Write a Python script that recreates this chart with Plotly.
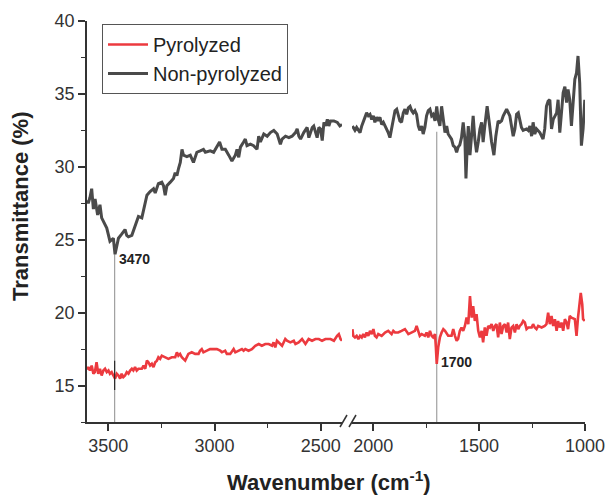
import plotly.graph_objects as go

# ---------------- data ----------------
# Non-pyrolyzed, high-wavenumber segment (3600-2400 cm-1)
np_left_wn = [3600, 3594, 3586, 3578, 3570, 3562, 3550, 3539, 3531, 3523, 3507, 3492, 3476, 3468,
              3460, 3452, 3436, 3421, 3413, 3405, 3389, 3374, 3358, 3342, 3326, 3318, 3303, 3287,
              3279, 3264, 3248, 3240, 3232, 3224, 3208, 3193, 3185, 3177, 3169, 3161, 3153, 3146,
              3130, 3114, 3099, 3083, 3067, 3052, 3043, 3028, 3020, 3004, 2988, 2976, 2965, 2949,
              2933, 2918, 2902, 2894, 2886, 2878, 2863, 2855, 2847, 2831, 2816, 2800, 2792, 2784,
              2768, 2752, 2737, 2721, 2705, 2690, 2682, 2666, 2650, 2635, 2619, 2611, 2603, 2595,
              2580, 2564, 2556, 2548, 2540, 2533, 2517, 2509, 2501, 2493, 2485, 2477, 2469, 2462,
              2454, 2438, 2422, 2410, 2400]
np_left_t = [27.7, 27.5, 27.9, 28.5, 27.1, 27.8, 26.7, 27.4, 26.5, 26.25, 25.8, 24.9, 25.1, 24.0,
             24.65, 25.1, 25.4, 25.7, 25.3, 25.2, 25.3, 26.0, 26.6, 26.5, 27.4, 28.05, 28.3, 28.5,
             28.2, 28.85, 28.95, 28.7, 28.05, 28.7, 28.95, 29.2, 29.6, 29.4, 29.9, 30.3, 31.2, 30.8,
             30.7, 30.8, 30.3, 31.0, 31.1, 31.2, 31.0, 31.1, 31.1, 31.0, 31.35, 31.7, 31.2, 31.2,
             30.8, 30.4, 30.8, 31.2, 30.65, 31.35, 31.7, 31.9, 31.45, 31.55, 31.45, 31.2, 32.1, 31.7,
             32.25, 32.1, 32.35, 32.5, 32.25, 31.55, 31.9, 32.1, 32.0, 32.1, 32.35, 32.6, 32.1, 31.9,
             32.35, 32.7, 32.0, 32.35, 32.7, 32.8, 32.0, 32.7, 32.6, 31.8, 33.05, 32.8, 33.25, 32.8,
             33.15, 33.15, 33.05, 32.8, 32.9]

# Non-pyrolyzed, low-wavenumber segment (2100-1000 cm-1)
np_right_wn = [2098, 2086, 2078, 2062, 2054, 2047, 2039, 2031, 2023, 2015, 2007, 1999, 1992, 1984,
               1976, 1968, 1960, 1952, 1944, 1936, 1929, 1921, 1913, 1905, 1897, 1889, 1882, 1874,
               1866, 1858, 1850, 1842, 1834, 1826, 1818, 1811, 1803, 1795, 1787, 1780, 1771, 1764,
               1756, 1748, 1740, 1732, 1724, 1717, 1708, 1700, 1693, 1685, 1677, 1669, 1661, 1653,
               1646, 1630, 1622, 1614, 1606, 1599, 1591, 1583, 1575, 1567, 1562, 1556, 1551, 1543,
               1535, 1528, 1520, 1512, 1504, 1496, 1488, 1481, 1473, 1462, 1452, 1441, 1430, 1421,
               1410, 1402, 1394, 1386, 1370, 1355, 1347, 1339, 1331, 1323, 1315, 1308, 1300, 1292,
               1276, 1268, 1260, 1252, 1245, 1237, 1229, 1213, 1205, 1198, 1190, 1182, 1174, 1166,
               1158, 1150, 1134, 1127, 1119, 1111, 1103, 1095, 1087, 1080, 1072, 1064, 1056, 1048,
               1040, 1033, 1025, 1017, 1009, 1001]
np_right_t = [32.8, 32.5, 32.7, 32.35, 32.8, 33.05, 33.4, 33.7, 33.5, 33.6, 33.25, 33.5, 33.05, 33.4,
              33.15, 33.4, 32.9, 33.05, 32.8, 32.6, 32.35, 32.0, 32.6, 33.25, 33.85, 33.95, 33.6, 33.15,
              33.05, 33.7, 33.95, 33.6, 34.05, 34.15, 33.85, 33.7, 33.85, 33.6, 32.8, 32.5, 32.8, 32.25,
              32.7, 33.5, 33.85, 33.95, 33.5, 33.6, 33.15, 34.15, 33.25, 32.8, 34.15, 33.25, 32.35, 32.8,
              32.25, 31.9, 31.45, 31.35, 31.0, 31.35, 31.5, 32.0, 33.05, 31.9, 29.2, 31.45, 32.8, 30.8,
              32.35, 33.5, 31.9, 31.0, 31.7, 32.6, 33.05, 31.7, 32.8, 34.15, 33.05, 31.7, 30.8, 32.1,
              33.15, 33.05, 33.15, 33.5, 33.95, 33.5, 32.8, 32.1, 32.6, 33.6, 33.7, 33.25, 32.7, 32.5,
              32.6, 32.5, 32.8, 32.1, 33.05, 32.25, 32.6, 32.35, 32.1, 31.9, 32.6, 34.15, 34.5, 34.6,
              32.6, 33.25, 33.7, 34.6, 32.35, 33.7, 35.1, 35.5, 34.4, 35.3, 34.6, 32.8, 34.15, 36.0,
              36.45, 37.6, 35.75, 31.45, 32.6, 34.6]

# Pyrolyzed, high-wavenumber segment
p_left_wn = [3600, 3594, 3586, 3578, 3570, 3563, 3555, 3547, 3539, 3531, 3523, 3515, 3507, 3499,
             3492, 3484, 3476, 3468, 3460, 3452, 3444, 3437, 3429, 3421, 3413, 3405, 3397, 3389,
             3382, 3374, 3366, 3358, 3342, 3334, 3326, 3318, 3311, 3303, 3295, 3287, 3279, 3271,
             3264, 3256, 3248, 3232, 3217, 3201, 3185, 3177, 3170, 3162, 3154, 3138, 3123, 3107,
             3091, 3075, 3068, 3060, 3052, 3036, 3021, 3005, 2989, 2973, 2965, 2950, 2942, 2926,
             2910, 2902, 2887, 2871, 2863, 2855, 2840, 2824, 2808, 2792, 2777, 2761, 2745, 2729,
             2722, 2714, 2706, 2698, 2682, 2667, 2659, 2643, 2627, 2619, 2604, 2588, 2572, 2557,
             2541, 2525, 2509, 2494, 2478, 2454, 2438, 2423, 2415, 2407, 2400]
p_left_t = [16.1, 16.26, 16.03, 16.37, 15.81, 15.92, 16.6, 15.81, 16.15, 15.69, 16.03, 16.15, 15.92, 16.03,
            15.81, 15.92, 15.69, 15.47, 15.81, 15.69, 15.47, 15.81, 15.58, 15.69, 15.92, 15.81, 16.03, 16.15,
            16.03, 16.26, 16.03, 16.15, 16.15, 16.37, 16.15, 16.71, 16.6, 16.37, 16.49, 16.26, 16.6, 16.71,
            16.94, 16.83, 17.05, 16.94, 16.83, 16.94, 16.94, 17.28, 17.05, 17.17, 16.94, 16.71, 17.17, 17.28,
            17.17, 17.17, 17.39, 17.5, 17.28, 17.39, 17.5, 17.5, 17.5, 17.39, 17.28, 17.39, 17.17, 17.17,
            17.5, 17.28, 17.39, 17.5, 17.39, 17.5, 17.39, 17.5, 17.73, 17.85, 17.73, 17.85, 17.85, 17.73,
            17.96, 17.62, 18.07, 17.96, 17.73, 18.19, 18.07, 17.96, 18.07, 17.85, 17.96, 18.19, 17.85, 18.19,
            18.07, 18.19, 18.19, 18.07, 18.19, 18.19, 18.07, 18.41, 18.53, 18.19, 18.07]

# Pyrolyzed, low-wavenumber segment
p_right_wn = [2098, 2094, 2086, 2078, 2070, 2062, 2054, 2047, 2039, 2031, 2023, 2015, 2007, 1999,
              1992, 1984, 1976, 1960, 1944, 1929, 1913, 1905, 1897, 1882, 1866, 1850, 1834, 1818,
              1803, 1795, 1787, 1780, 1771, 1756, 1748, 1740, 1732, 1724, 1717, 1708, 1704, 1700,
              1693, 1685, 1677, 1669, 1661, 1653, 1646, 1630, 1622, 1614, 1606, 1599, 1591, 1583,
              1575, 1567, 1559, 1551, 1543, 1535, 1528, 1520, 1512, 1504, 1496, 1488, 1481, 1473,
              1465, 1457, 1449, 1441, 1433, 1425, 1418, 1410, 1402, 1394, 1386, 1378, 1370, 1363,
              1355, 1347, 1339, 1331, 1323, 1315, 1308, 1300, 1292, 1284, 1276, 1268, 1252, 1245,
              1237, 1229, 1221, 1205, 1190, 1182, 1174, 1166, 1158, 1150, 1142, 1134, 1127, 1119,
              1111, 1103, 1095, 1087, 1080, 1072, 1064, 1048, 1040, 1033, 1025, 1020, 1013, 1009, 1001]
p_right_t = [18.87, 18.41, 18.3, 18.41, 18.19, 18.41, 18.3, 18.53, 18.3, 18.64, 18.41, 18.75, 18.53, 18.87,
             18.41, 18.3, 18.53, 18.41, 18.64, 18.75, 18.53, 18.75, 18.64, 18.64, 18.75, 18.87, 18.53, 18.64,
             18.75, 19.09, 18.75, 18.41, 18.53, 18.41, 18.64, 18.3, 18.75, 18.41, 18.3, 18.53, 17.62, 16.48,
             17.62, 18.3, 18.64, 18.87, 18.75, 18.53, 18.41, 18.41, 18.87, 18.41, 18.07, 18.19, 18.75, 18.98,
             18.75, 19.09, 19.66, 19.21, 21.13, 19.66, 20.45, 19.43, 19.89, 18.75, 18.3, 18.75, 17.96, 18.98,
             18.41, 19.09, 18.98, 19.21, 18.75, 19.09, 19.21, 18.3, 19.32, 18.53, 19.09, 19.21, 18.64, 19.32,
             18.19, 18.98, 19.09, 18.64, 19.21, 18.87, 19.09, 19.21, 19.43, 19.32, 18.87, 18.98, 18.98, 19.21,
             18.98, 18.87, 19.09, 18.98, 19.09, 19.21, 20.0, 19.21, 19.77, 19.09, 19.55, 18.75, 19.43, 18.98,
             19.32, 18.75, 19.55, 19.32, 18.87, 19.77, 19.66, 19.55, 18.41, 19.66, 20.79, 21.36, 20.57, 19.55, 19.43]

# marked bands and the reach of their drop lines
peak_wn = [3470, 1700]
peak_label = ["3470", "1700"]
peak_line_top = [24.0, 32.4]
peak_label_y = [23.7, 16.6]
# darker stretch of the 3470 drop line where it crosses the red trace
cross_3470 = [14.7, 16.7]

series_names = ["Pyrolyzed", "Non-pyrolyzed"]
y_range = [12.5, 40]
x_left_range = [3600, 2400]
x_right_range = [2100, 1000]

RED = "#ec3a3f"
DARK = "#4a4a4a"
FONT = "Arial, Liberation Sans, sans-serif"

fig = go.Figure()

# drop lines
for wn, top, ax in zip(peak_wn, peak_line_top, ["x", "x2"]):
    fig.add_trace(go.Scatter(x=[wn, wn], y=[y_range[0], top], xaxis=ax, yaxis="y",
                             mode="lines", line=dict(color="#a0a0a0", width=1.2),
                             showlegend=False, hoverinfo="skip"))

fig.add_trace(go.Scatter(x=p_left_wn, y=p_left_t, xaxis="x", yaxis="y", mode="lines",
                         line=dict(color=RED, width=2.6), name=series_names[0], legendgroup="p"))
fig.add_trace(go.Scatter(x=p_right_wn, y=p_right_t, xaxis="x2", yaxis="y", mode="lines",
                         line=dict(color=RED, width=2.6), name=series_names[0], legendgroup="p",
                         showlegend=False))
fig.add_trace(go.Scatter(x=np_left_wn, y=np_left_t, xaxis="x", yaxis="y", mode="lines",
                         line=dict(color=DARK, width=3), name=series_names[1], legendgroup="np"))
fig.add_trace(go.Scatter(x=np_right_wn, y=np_right_t, xaxis="x2", yaxis="y", mode="lines",
                         line=dict(color=DARK, width=3), name=series_names[1], legendgroup="np",
                         showlegend=False))
fig.add_trace(go.Scatter(x=[peak_wn[0], peak_wn[0]], y=cross_3470, xaxis="x", yaxis="y",
                         mode="lines", line=dict(color="#2a2a2a", width=1.2),
                         showlegend=False, hoverinfo="skip"))

W, H = 608, 499
ml, mr, mt, mb = 87, 23, 21, 77
pw = W - ml - mr
ph = H - mt - mb
left_end = (342 - ml) / pw
right_start = (352 - ml) / pw

axis_common = dict(showline=True, linecolor="#333333", linewidth=1.6, ticks="outside",
                   ticklen=7, tickwidth=1.6, tickcolor="#333333", showgrid=False, zeroline=False,
                   automargin=False,
                   tickfont=dict(family=FONT, size=18, color="#333333"),
                   minor=dict(ticks="outside", ticklen=4, tickwidth=1.4, tickcolor="#333333"))

fig.update_layout(
    template="none",
    width=W, height=H,
    margin=dict(l=ml, r=mr, t=mt, b=mb, autoexpand=False),
    paper_bgcolor="white", plot_bgcolor="white",
    font=dict(family=FONT, color="#222222"),
    xaxis=dict(domain=[0, left_end], range=x_left_range, anchor="y", dtick=500, tick0=0,
               **{**axis_common, "minor": dict(axis_common["minor"], dtick=250)}),
    xaxis2=dict(domain=[right_start, 1], range=x_right_range, anchor="y", dtick=500, tick0=0,
                **{**axis_common, "minor": dict(axis_common["minor"], dtick=250)}),
    yaxis=dict(domain=[0, 1], range=y_range, anchor="x", dtick=5, tick0=0,
               **{**axis_common, "minor": dict(axis_common["minor"], dtick=2.5)}),
    legend=dict(x=(102 - ml) / pw, y=1 - (24 - mt) / ph, xanchor="left", yanchor="top",
                bordercolor="#555555", borderwidth=1, bgcolor="white",
                font=dict(family=FONT, size=20, color="#222222"),
                tracegroupgap=0, itemwidth=40),
    showlegend=True,
)

annotations = []
for wn, lab, ly, ax in zip(peak_wn, peak_label, peak_label_y, ["x", "x2"]):
    annotations.append(dict(x=wn, y=ly, xref=ax, yref="y", text="<b>" + lab + "</b>",
                            showarrow=False, xanchor="left", yanchor="middle", xshift=2,
                            font=dict(family=FONT, size=14, color="#222222")))
annotations.append(dict(x=(20 - ml) / pw, y=(422 - 206) / ph, xref="paper", yref="paper",
                        text="<b>Transmittance (%)</b>", textangle=-90, showarrow=False,
                        xanchor="center", yanchor="middle",
                        font=dict(family=FONT, size=22, color="#222222")))
annotations.append(dict(x=(329 - ml) / pw, y=(422 - 481) / ph, xref="paper", yref="paper",
                        text="<b>Wavenumber (cm<sup>-1</sup>)</b>", showarrow=False,
                        xanchor="center", yanchor="middle",
                        font=dict(family=FONT, size=22, color="#222222")))
fig.update_layout(annotations=annotations)

# axis break marks
shapes = []
for x0 in [340, 349]:
    shapes.append(dict(type="line", xref="paper", yref="paper",
                       x0=(x0 - ml) / pw, y0=-5 / ph, x1=(x0 + 7 - ml) / pw, y1=7 / ph,
                       line=dict(color="#333333", width=1.5)))
fig.update_layout(shapes=shapes)

fig.write_html("out.html")
